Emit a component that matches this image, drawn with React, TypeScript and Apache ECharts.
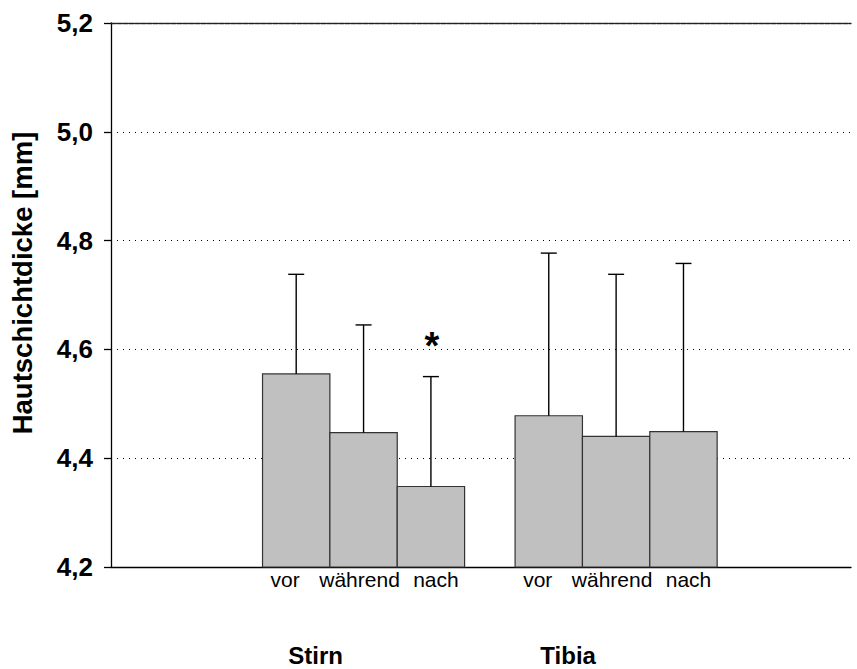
import React, { useEffect, useRef } from "react";
import * as echarts from "echarts";

// ---- data ----
const groups = ["Stirn", "Tibia"];
const phases = ["vor", "während", "nach"];
const stirnMean = [4.555, 4.447, 4.348];
const stirnSD = [0.183, 0.198, 0.202];
const stirnSig = ["", "", "*"];
const tibiaMean = [4.478, 4.44, 4.449];
const tibiaSD = [0.299, 0.298, 0.309];
const tibiaSig = ["", "", ""];
const yTicks = [4.2, 4.4, 4.6, 4.8, 5.0, 5.2];
const yTitle = "Hautschichtdicke [mm]";

// ---- layout / style constants ----
const FONT = "'Liberation Sans', Arial, Helvetica, sans-serif";
const BAR_W = 0.2667; // in x-axis units (group spacing = 1)
const LABEL_DX = [-11, -4, 5];
const GROUP_LABEL_DX = -48;

export default function App() {
  const ref = useRef<HTMLDivElement>(null);

  useEffect(() => {
    if (!ref.current) return;
    const chart = echarts.init(ref.current, null, { renderer: "svg" });

    const means = [stirnMean, tibiaMean];
    const sds = [stirnSD, tibiaSD];
    const sigs = [stirnSig, tibiaSig];
    const barData: any[] = [];
    groups.forEach((g, gi) => {
      phases.forEach((p, pi) => {
        barData.push([gi + 1, pi, means[gi][pi], sds[gi][pi], sigs[gi][pi]]);
      });
    });
    const groupData = groups.map((g, gi) => [gi + 1, g]);

    const option: any = {
      animation: false,
      backgroundColor: "#fff",
      grid: { left: 111, right: 6, top: 23, bottom: 102 },
      xAxis: [
        {
          type: "value",
          min: 0,
          max: 2.93,
          position: "bottom",
          axisLine: { show: true, onZero: false, lineStyle: { color: "#000", width: 1.3 } },
          axisTick: { show: false },
          axisLabel: { show: false },
          splitLine: { show: false },
        },
        {
          type: "value",
          min: 0,
          max: 2.93,
          position: "top",
          axisLine: { show: true, onZero: false, lineStyle: { color: "#222", width: 1.3, type: [5, 1] } },
          axisTick: { show: false },
          axisLabel: { show: false },
          splitLine: { show: false },
        },
      ],
      yAxis: {
        type: "value",
        min: yTicks[0],
        max: yTicks[yTicks.length - 1],
        interval: 0.2,
        axisLine: { show: true, onZero: false, lineStyle: { color: "#000", width: 1.3 } },
        axisTick: { show: true, length: 7, inside: false, lineStyle: { color: "#000", width: 1.3 } },
        axisLabel: {
          margin: 18,
          color: "#000",
          fontFamily: FONT,
          fontWeight: "bold",
          fontSize: 26,
          formatter: (v: number) => v.toFixed(1).replace(".", ","),
        },
        splitLine: { show: true, lineStyle: { color: "#000", width: 1, type: [1, 5] } },
      },
      graphic: [
        {
          type: "text",
          x: 22,
          y: 283,
          rotation: Math.PI / 2,
          style: {
            text: yTitle,
            fontFamily: FONT,
            fontWeight: "bold",
            fontSize: 27.5,
            fill: "#000",
            textAlign: "center",
            textVerticalAlign: "middle",
          },
        },
      ],
      series: [
        {
          type: "custom",
          xAxisIndex: 0,
          data: barData,
          renderItem: (params: any, api: any) => {
            const g = api.value(0);
            const pi = api.value(1);
            const mean = api.value(2);
            const sd = api.value(3);
            const sig = barData[params.dataIndex][4];
            const cx = g + (pi - 1) * BAR_W;
            const left = api.coord([cx - BAR_W / 2, mean]);
            const right = api.coord([cx + BAR_W / 2, yTicks[0]]);
            const c = api.coord([cx, mean]);
            const top = api.coord([cx, mean + sd]);
            const base = api.coord([cx, yTicks[0]]);
            const children: any[] = [
              {
                type: "rect",
                shape: { x: left[0], y: left[1], width: right[0] - left[0], height: right[1] - left[1] },
                style: { fill: "#c0c0c0", stroke: "#333", lineWidth: 1.2 },
              },
              {
                type: "line",
                shape: { x1: c[0], y1: c[1], x2: top[0], y2: top[1] },
                style: { stroke: "#000", lineWidth: 1.4 },
              },
              {
                type: "line",
                shape: { x1: top[0] - 8, y1: top[1], x2: top[0] + 8, y2: top[1] },
                style: { stroke: "#000", lineWidth: 1.4 },
              },
              {
                type: "text",
                x: base[0] + LABEL_DX[pi],
                y: base[1] + 1.5,
                style: {
                  text: phases[pi],
                  fontFamily: FONT,
                  fontSize: 21,
                  fill: "#000",
                  textAlign: "center",
                  textVerticalAlign: "top",
                },
              },
            ];
            if (sig) {
              children.push({
                type: "text",
                x: top[0] + 1,
                y: top[1] - 31,
                style: {
                  text: sig,
                  fontFamily: FONT,
                  fontWeight: "bold",
                  fontSize: 38,
                  fill: "#000",
                  textAlign: "center",
                  textVerticalAlign: "middle",
                },
              });
            }
            return { type: "group", children };
          },
        },
        {
          type: "custom",
          xAxisIndex: 0,
          data: groupData,
          renderItem: (params: any, api: any) => {
            const p = api.coord([api.value(0), yTicks[0]]);
            return {
              type: "text",
              x: p[0] + GROUP_LABEL_DX,
              y: p[1] + 88,
              style: {
                text: groupData[params.dataIndex][1],
                fontFamily: FONT,
                fontWeight: "bold",
                fontSize: 24,
                fill: "#000",
                textAlign: "center",
                textVerticalAlign: "middle",
              },
            };
          },
        },
      ],
    };

    chart.setOption(option);
    return () => chart.dispose();
  }, []);

  return (
    <div
      ref={ref}
      style={{ position: "fixed", left: 0, top: 0, width: 857, height: 669, background: "#fff" }}
    />
  );
}
